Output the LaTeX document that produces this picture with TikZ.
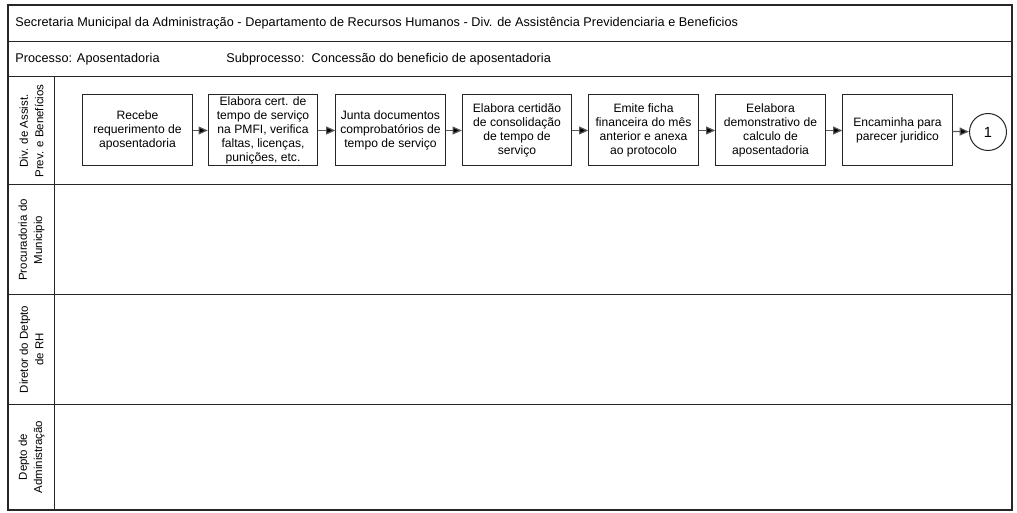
\documentclass[tikz,border=0pt]{standalone}
\usepackage{fontspec}
\setmainfont{Liberation Sans}
\usetikzlibrary{arrows.meta}
\begin{document}
\begin{tikzpicture}[x=0.75pt,y=-0.75pt,
  rule/.style={line width=0.75pt, draw=black!85},
  stepbox/.style={draw=black!85, line width=0.75pt, minimum width=82pt, minimum height=53.25pt,
    inner sep=1pt, align=center, font=\fontsize{9.1}{10.6}\selectfont},
  connector/.style={line width=0.9pt, draw=black!65, -{Triangle[length=7pt,width=6pt,fill=black]}},
  lanelabel/.style={rotate=90, align=center, font=\fontsize{8.6}{11.5}\selectfont},
  headtext/.style={anchor=west, inner sep=0pt, font=\fontsize{9.5}{11}\selectfont\addfontfeatures{LetterSpace=0.6}}
]
\useasboundingbox (0,0) rectangle (1017,513);
\fill[white] (0,0) rectangle (1017,513);

% outer frame, header rows and swimlanes
\draw[rule, line width=0.9pt] (8,5) rectangle (1012,510);
\draw[rule] (8,42) -- (1012,42);
\draw[rule] (8,77) -- (1012,77);
\draw[rule] (8,185) -- (1012,185);
\draw[rule] (8,295) -- (1012,295);
\draw[rule] (8,404) -- (1012,404);
\draw[rule] (54,77) -- (54,510);

% header texts
\node[headtext] (title) at (15,23.5) {Secretaria Municipal da Administração - Departamento de Recursos Humanos - Div. de Assistência Previdenciaria e Beneficios};
\node[headtext] (proc) at (15,59.5) {Processo: Aposentadoria};
\node[headtext] (subproc) at (226,59.5) {Subprocesso:\ \ Concessão do beneficio de aposentadoria};

% lane labels
\node[lanelabel] (lane1) at (31.5,131) {Div. de Assist.\\Prev. e Benefícios};
\node[lanelabel] (lane2) at (31.5,240) {Procuradoria do\\Municipio};
\node[lanelabel] (lane3) at (31.5,349.5) {Diretor do Detpto\\de RH};
\node[lanelabel] (lane4) at (31.5,457) {Depto de\\Administração};

% process steps
\node[stepbox] (s1) at (137.5,130.5) {Recebe\\requerimento de\\aposentadoria};
\node[stepbox] (s2) at (263,130.5) {Elabora cert. de\\tempo de serviço\\na PMFI, verifica\\faltas, licenças,\\punições, etc.};
\node[stepbox] (s3) at (390.5,130.5) {Junta documentos\\comprobatórios de\\tempo de serviço};
\node[stepbox] (s4) at (517,130.5) {Elabora certidão\\de consolidação\\de tempo de\\serviço};
\node[stepbox] (s5) at (643.5,130.5) {Emite ficha\\financeira do mês\\anterior e anexa\\ao protocolo};
\node[stepbox] (s6) at (770.5,130.5) {Eelabora\\demonstrativo de\\calculo de\\aposentadoria};
\node[stepbox] (s7) at (897.5,130.5) {Encaminha para\\parecer juridico};
\node[draw=black!85, line width=0.75pt, circle, minimum size=27.75pt, inner sep=0pt,
  font=\fontsize{11}{13}\selectfont] (c1) at (988,132) {1};

% flow
\draw[connector] (s1) -- (s2);
\draw[connector] (s2) -- (s3);
\draw[connector] (s3) -- (s4);
\draw[connector] (s4) -- (s5);
\draw[connector] (s5) -- (s6);
\draw[connector] (s6) -- (s7);
\draw[connector] (s7) -- (c1);
\end{tikzpicture}
\end{document}
